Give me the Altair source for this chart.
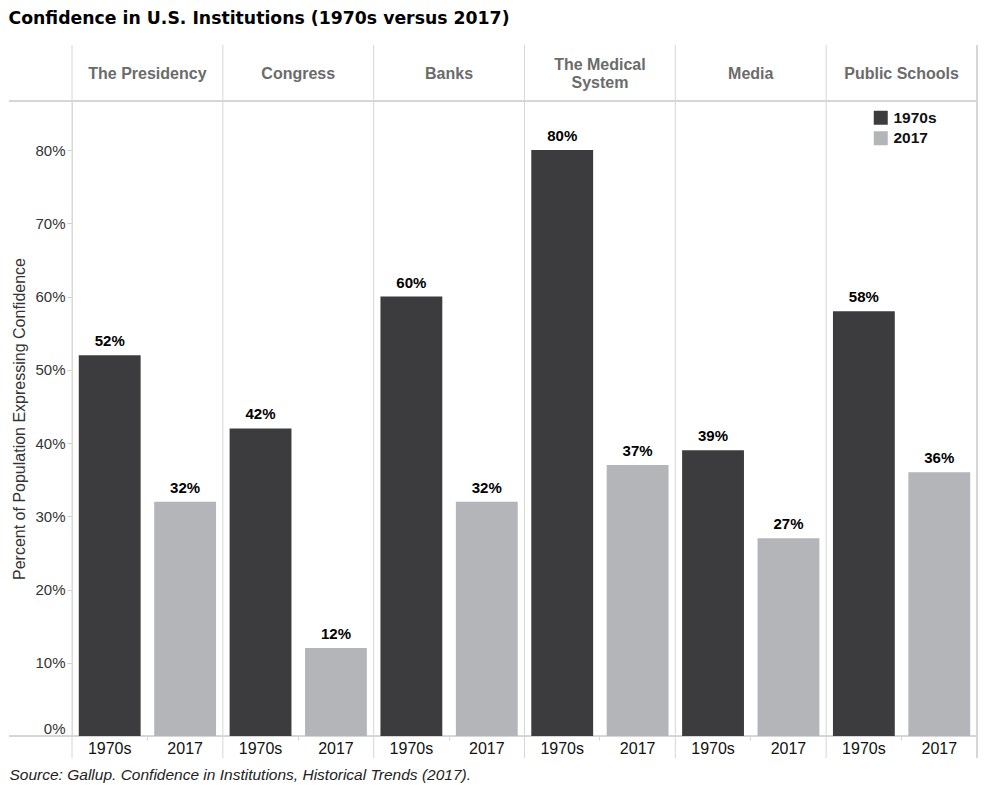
import altair as alt
import pandas as pd

institutions = ["The Presidency", "Congress", "Banks", "The Medical System", "Media", "Public Schools"]
periods = ["1970s", "2017"]
values_1970s = [0.52, 0.42, 0.60, 0.80, 0.39, 0.58]
values_2017 = [0.32, 0.12, 0.32, 0.37, 0.27, 0.36]
y_ticks = [0, 0.1, 0.2, 0.3, 0.4, 0.5, 0.6, 0.7, 0.8]

rows = []
for inst, a, b in zip(institutions, values_1970s, values_2017):
    rows.append({"institution": inst, "period": "1970s", "value": a, "key": inst + "|1970s"})
    rows.append({"institution": inst, "period": "2017", "value": b, "key": inst + "|2017"})
df = pd.DataFrame(rows)
keys = list(df["key"])
inst_df = pd.DataFrame({"institution": institutions})

W, H = 905, 635
LEFT = 63
GRID = "#d6d6d6"
FONT = "Liberation Sans"

x_key = alt.X(
    "key:N", sort=keys,
    scale=alt.Scale(paddingInner=0, paddingOuter=0),
    axis=alt.Axis(
        orient="bottom", labelExpr="split(datum.value, '|')[1]", labelAngle=0,
        labelOverlap=False, labelFontSize=16, labelColor="#111", labelFont=FONT,
        labelPadding=0, bandPosition=0, tickSize=4,
        tickColor={"condition": {"test": "indexof(datum.value, '2017') >= 0", "value": GRID}, "value": "transparent"},
        domain=False, grid=False,
        title="Source: Gallup. Confidence in Institutions, Historical Trends (2017).",
        titleFont=FONT, titleFontSize=15.5, titleFontStyle="italic", titleFontWeight="normal",
        titleColor="#222", titleAlign="left", titleAnchor="start", titleBaseline="middle",
        titleX=-LEFT, titleY=38,
    ),
)
y_val = alt.Y(
    "value:Q",
    scale=alt.Scale(domain=[0, 0.867], nice=False),
    axis=alt.Axis(
        values=y_ticks, format=".0%", labelFontSize=15, labelColor="#333", labelFont=FONT,
        labelBaseline={"condition": {"test": "datum.value === 0", "value": "bottom"}, "value": "middle"},
        tickSize=5, tickColor="#cfcfcf", domain=False, grid=False, labelPadding=2,
        title="Percent of Population Expressing Confidence", titleFontSize=16,
        titleFontWeight="normal", titleColor="#333", titleFont=FONT, titlePadding=7,
    ),
)

bars = alt.Chart(df).mark_bar(width=alt.RelativeBandSize(0.82)).encode(
    x=x_key,
    y=y_val,
    color=alt.Color(
        "period:N",
        scale=alt.Scale(domain=periods, range=["#3c3c3e", "#b4b5b8"]),
        legend=alt.Legend(
            title=None, orient="none", legendX=801, legendY=9, symbolType="square",
            symbolSize=196, symbolStrokeWidth=0, labelFontSize=15.5, labelFontWeight="bold",
            labelColor="#111", labelFont=FONT, rowPadding=3.5, labelOffset=5, padding=0,
        ),
    ),
)

labels = alt.Chart(df).mark_text(
    baseline="bottom", dy=-6, fontSize=15, fontWeight="bold", color="#000", font=FONT
).encode(
    x=x_key,
    y=y_val,
    text=alt.Text("value:Q", format=".0%"),
)

data_layer = alt.layer(bars, labels)

dividers = alt.Chart(inst_df).mark_rule(color=GRID, strokeWidth=1).encode(
    x=alt.X(
        "institution:N", sort=institutions, bandPosition=0,
        scale=alt.Scale(paddingInner=0, paddingOuter=0),
        axis=alt.Axis(
            orient="top", ticks=False, tickSize=0, domain=False, grid=False, title=None,
            labelAngle=0, labelOverlap=False, labelFontSize=16, labelFontWeight="bold",
            labelColor="#6b6b6b", labelFont=FONT, labelBaseline="middle",
            labelPadding={"condition": {"test": "datum.value === 'The Medical System'", "value": 37}, "value": 28},
            labelLineHeight=18,
            labelExpr="datum.value == 'The Medical System' ? ['The Medical', 'System'] : datum.value",
        ),
    ),
    y=alt.value(-56),
    y2=alt.value(H + 22),
)

right_edge = alt.Chart(inst_df).mark_rule(color=GRID, strokeWidth=1).encode(
    x=alt.value(W), y=alt.value(-56), y2=alt.value(H + 22)
)
top_line = alt.Chart(inst_df).mark_rule(color=GRID, strokeWidth=1).encode(
    x=alt.value(-LEFT), x2=alt.value(W), y=alt.value(0)
)
bottom_line = alt.Chart(inst_df).mark_rule(color=GRID, strokeWidth=1).encode(
    x=alt.value(-LEFT), x2=alt.value(W), y=alt.value(H)
)

chart = alt.layer(
    top_line, bottom_line, dividers, right_edge, data_layer
).resolve_scale(x="independent").properties(
    width=W, height=H, padding={"top": 2, "left": 0, "right": 0, "bottom": 0},
    title=alt.Title(
        "Confidence in U.S. Institutions (1970s versus 2017)", anchor="start",
        font="DejaVu Sans", fontSize=17.3, fontWeight="bold", color="#000", offset=17,
    ),
).configure_view(stroke=None).configure(font=FONT)

chart.save("out.html", embed_options={"renderer": "svg", "actions": False})
